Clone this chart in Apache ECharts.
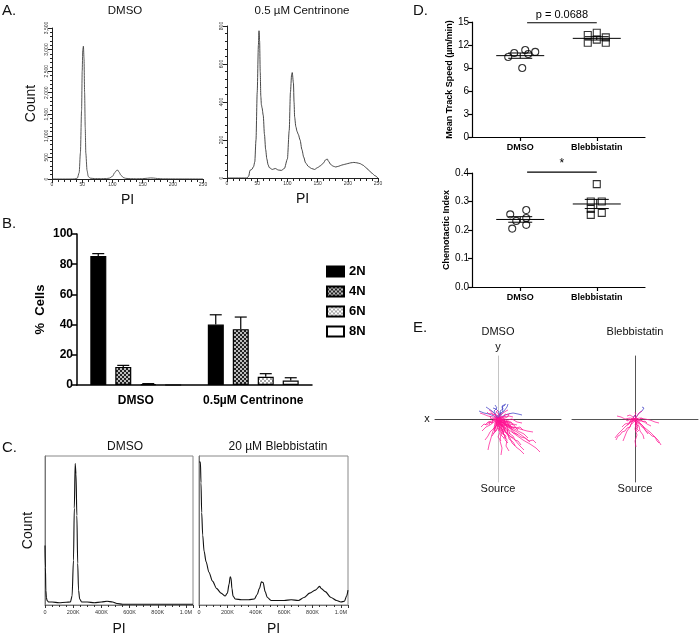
<!DOCTYPE html>
<html><head><meta charset="utf-8">
<script src="https://cdn.jsdelivr.net/npm/echarts@6/dist/echarts.min.js"></script>
<style>html,body{margin:0;padding:0;background:#fff}#c{width:700px;height:637px}</style>
</head><body><div id="c"></div>
<script>
// ---------- Panel A: cell-cycle histograms (PI vs Count) ----------
const histA_DMSO = [[0,0],[30,0],[38,2],[42,20],[45,150],[47,600],[49,1600],[50,2500],[51,3000],[52,3080],[53,2800],[54,2000],[55,1200],[56,600],[58,200],[60,60],[63,20],[70,10],[80,8],[90,10],[95,20],[100,60],[104,150],[107,200],[109,205],[111,160],[114,90],[118,35],[122,15],[130,8],[140,6],[150,8],[158,18],[163,25],[168,22],[175,10],[185,5],[200,3],[220,2],[250,0]];
const histA_Cent = [[0,0],[33,0],[36,10],[38,40],[41,45],[44,60],[46,85],[48,200],[50,450],[52,700],[53,775],[54,720],[55,560],[56,430],[57,385],[58,370],[60,330],[62,230],[64,150],[66,100],[68,70],[70,55],[75,45],[80,50],[85,42],[90,40],[95,50],[100,100],[103,250],[105,450],[107,545],[108,555],[110,500],[111,400],[112,320],[114,270],[116,245],[118,230],[121,200],[124,150],[127,110],[130,80],[135,60],[140,50],[145,45],[150,55],[155,65],[160,80],[163,95],[166,100],[168,88],[172,70],[176,62],[180,58],[185,62],[190,68],[195,72],[200,76],[205,80],[210,82],[215,80],[220,76],[225,68],[230,55],[235,40],[240,25],[245,12],[250,0]];
const aTitles = ['DMSO','0.5 µM Centrinone'];

// ---------- Panel B: ploidy bar chart ----------
const bCategories = ['DMSO','0.5µM Centrinone'];
const bSeriesNames = ['2N','4N','6N','8N'];
const b2N = [85.5, 40];   const b2N_err = [1.5, 6.5];
const b4N = [12, 37];     const b4N_err = [1, 8];
const b6N = [0.6, 5.5];   const b6N_err = [0.3, 2];
const b8N = [0, 3];       const b8N_err = [0, 1.8];

// ---------- Panel C: PI histograms (PI in K, relative count %) ----------
const histC_DMSO = [[0,40],[3,25],[6,10],[10,5],[15,3],[25,2],[50,2],[100,1.5],[150,1.8],[180,2],[192,6],[202,30],[208,65],[214,95],[220,88],[226,60],[232,28],[238,10],[246,4],[260,2],[300,2],[350,1.5],[400,2],[440,2.5],[480,2],[510,1],[550,0.5],[1050,0.5]];
const histC_Bleb = [[0,96],[10,96],[14,82],[19,62],[26,47],[36,36],[50,29],[70,22],[95,16],[125,11],[155,8],[185,6],[200,8],[212,14],[220,19],[226,18],[232,11],[240,6],[255,4],[300,3.5],[350,3.5],[390,4],[410,7],[425,11],[440,15.5],[452,15],[466,9],[482,5],[510,3],[600,3],[650,3.5],[700,3],[740,5],[780,8],[820,10],[850,12.5],[862,11],[890,9],[930,5],[970,3],[1000,2],[1025,2.5],[1040,6],[1050,10]];
const cTitles = ['DMSO','20 µM Blebbistatin'];

// ---------- Panel D: dot plots ----------
const dGroups = ['DMSO','Blebbistatin'];
const speedDMSO = [11.35, 11.1, 10.96, 10.83, 10.43, 9.0];
const speedBleb = [13.3, 12.3, 13.6, 12.7, 13.0, 12.3];
const ciDMSO = [0.270, 0.255, 0.242, 0.232, 0.218, 0.205];
const ciBleb = [0.361, 0.300, 0.300, 0.274, 0.260, 0.253];
const speedP = 'p = 0.0688';
const ciP = '*';

// ---------- Panel E: migration tracks (relative x, y) ----------
const tracksDMSO_pink = [
 [[0,0],[4,-3],[9,-6],[15,-8],[22,-10],[29,-12],[35,-13]],
 [[0,0],[5,-6],[11,-11],[18,-16],[25,-21],[32,-25],[38,-29],[42,-33]],
 [[0,0],[6,-4],[12,-9],[19,-13],[26,-18],[32,-23]],
 [[0,0],[-2,-6],[-5,-12],[-7,-19],[-9,-26],[-10,-31]],
 [[0,0],[1,-7],[3,-14],[2,-22],[4,-29],[3,-36]],
 [[0,0],[-4,-3],[-8,-6],[-12,-8],[-16,-12]],
 [[0,0],[-5,2],[-10,3],[-15,5],[-18,6]],
 [[0,0],[3,2],[7,1],[11,3],[15,2]],
 [[0,0],[2,-5],[6,-9],[8,-14],[12,-19],[14,-24],[17,-27]],
 [[0,0],[-3,-4],[-4,-9],[-8,-13],[-10,-17],[-13,-21]],
 [[0,0],[5,-2],[8,-7],[13,-9],[17,-14],[20,-16]],
 [[0,0],[1,-4],[-1,-9],[2,-13],[0,-18],[3,-22]],
 [[0,0],[4,1],[9,-1],[14,0],[19,-3],[24,-4]],
 [[0,0],[-2,3],[-5,5],[-7,8],[-9,9]],
 [[0,0],[2,4],[5,6],[8,8],[10,9]],
 [[0,0],[6,-10],[10,-16],[16,-20],[22,-27],[26,-31]],
 [[0,0],[-1,-3],[-3,-7],[-2,-11],[-5,-15]],
 [[0,0],[3,-3],[5,-6],[9,-5],[12,-8]],
 [[0,0],[7,-6],[13,-8],[20,-12],[26,-15],[30,-19]],
 [[0,0],[0,-6],[4,-10],[6,-16],[9,-21],[8,-27],[11,-32]],
 [[0,0],[-3,1],[-6,-2],[-10,-3],[-13,-6]],
 [[0,0],[4,-1],[8,-3],[11,-2],[15,-5],[19,-6]],
 [[0,0],[2,-2],[3,-6],[6,-8],[7,-12]],
 [[0,0],[-1,2],[1,5],[-2,7],[0,9]],
 [[0,0],[3,-1],[5,-4],[9,-3],[11,-7],[14,-9]],
 [[0,0],[-2,-2],[-1,-6],[-4,-9],[-3,-13]],
 [[0,0],[2,-3],[1,-6],[4,-8],[3,-11],[6,-13],[5,-16]],
 [[0,0],[3,1],[5,-2],[8,-1],[10,-4],[13,-3],[15,-6]],
 [[0,0],[-2,-1],[-3,-4],[-1,-7],[-4,-9],[-3,-12]],
 [[0,0],[1,2],[4,1],[6,3],[9,2],[11,4]],
 [[0,0],[4,-4],[6,-2],[9,-6],[11,-5],[14,-9],[17,-8],[20,-11]],
 [[0,0],[-1,-4],[2,-6],[1,-10],[4,-12],[3,-16],[6,-19]],
 [[0,0],[3,-2],[2,-5],[5,-7],[8,-6],[10,-10],[9,-13],[12,-15]],
 [[0,0],[-3,2],[-2,5],[-5,4],[-7,6],[-9,5],[-11,7]],
 [[0,0],[2,-1],[5,-4],[4,-7],[7,-9],[10,-11],[9,-14],[12,-17],[15,-19]],
 [[0,0],[-2,-3],[0,-5],[-3,-8],[-1,-11],[-4,-14],[-6,-17]],
 [[0,0],[5,0],[7,-3],[10,-2],[12,-5],[16,-6],[18,-9],[22,-8],[25,-11]],
 [[0,0],[1,-2],[-2,-4],[0,-7],[2,-9],[1,-12]],
 [[0,0],[3,3],[6,2],[7,5],[10,4],[12,6]],
 [[0,0],[2,-6],[5,-8],[7,-13],[10,-15],[11,-20],[15,-23],[18,-28],[22,-31],[26,-35]],
 [[0,0],[-4,-1],[-6,-4],[-9,-3],[-11,-6],[-14,-5],[-17,-8]],
 [[0,0],[4,-3],[7,-4],[9,-8],[13,-10],[15,-14],[19,-15],[23,-18],[27,-19],[31,-22],[35,-21],[38,-24]],
 [[0,0],[0,-3],[3,-5],[2,-9],[5,-10],[4,-14],[7,-16],[6,-20]],
 [[0,0],[-1,1],[-3,-1],[-5,1],[-7,0],[-8,3]],
 [[0,0],[2,1],[3,-1],[6,0],[7,-3],[9,-2]],
 [[0,0],[1,-5],[4,-6],[3,-10],[6,-11],[5,-15],[8,-17],[7,-21],[10,-24]],
 [[0,0],[2,-1],[1,-3],[3,-4],[5,-3],[6,-6],[8,-5],[9,-8]],
 [[0,0],[-1,-1],[0,-3],[-2,-5],[0,-6],[-1,-9],[1,-10]],
 [[0,0],[1,1],[3,0],[4,-2],[6,-1],[7,-4],[10,-4],[11,-7],[13,-6]],
 [[0,0],[-2,1],[-3,-2],[-5,-1],[-6,-4],[-8,-3],[-9,-6]],
 [[0,0],[3,-4],[4,-7],[7,-8],[8,-11],[11,-12],[12,-15],[15,-17],[17,-21],[20,-22],[23,-26]]
];
const tracksDMSO_blue = [
 [[0,0],[-4,3],[-9,5],[-14,6],[-19,8]],
 [[0,0],[3,4],[6,8],[9,12],[10,15]],
 [[0,0],[-2,4],[-4,8],[-1,11],[-3,14]],
 [[0,0],[5,3],[10,5],[15,6],[20,5],[24,4]],
 [[0,0],[2,5],[5,8],[4,12],[7,14]],
 [[0,0],[-3,5],[-6,8],[-9,10],[-12,12]],
 [[0,0],[1,3],[3,5],[2,8],[5,10],[4,13],[8,15]],
 [[0,0],[-1,3],[2,5],[0,8],[-2,10],[-5,11]]
];
const tracksBleb_pink = [
 [[0,0],[-4,-3],[-9,-7],[-13,-11],[-17,-15],[-20,-19]],
 [[0,0],[5,-4],[10,-9],[15,-13],[19,-17],[23,-21],[26,-26]],
 [[0,0],[1,-5],[0,-10],[2,-16],[0,-22],[1,-28]],
 [[0,0],[-5,1],[-10,0],[-14,2],[-18,3]],
 [[0,0],[5,1],[10,0],[15,-1],[20,-3],[24,-4]],
 [[0,0],[3,-3],[7,-6],[10,-11],[13,-15]],
 [[0,0],[-3,-3],[-5,-8],[-8,-12],[-10,-17],[-12,-22]],
 [[0,0],[2,3],[4,6],[7,8]],
 [[0,0],[-2,2],[-5,4],[-8,3]],
 [[0,0],[4,-2],[8,-2],[12,-5],[16,-7]],
 [[0,0],[-3,-1],[-6,-4],[-10,-5],[-13,-8]],
 [[0,0],[1,-3],[4,-7],[5,-12],[8,-16],[9,-20]],
 [[0,0],[2,-2],[1,-5],[3,-7],[2,-10],[4,-12]],
 [[0,0],[-2,-1],[-3,-3],[-5,-2],[-6,-5],[-8,-6]],
 [[0,0],[3,0],[4,-2],[6,-1],[8,-3],[10,-2],[12,-4]],
 [[0,0],[1,2],[-1,3],[1,5],[0,7]],
 [[0,0],[-1,-2],[1,-4],[0,-6],[2,-8],[1,-11],[3,-13]],
 [[0,0],[2,1],[4,-1],[6,1],[8,0]],
 [[0,0],[-3,1],[-4,-1],[-6,0],[-7,-2],[-9,-1]],
 [[0,0],[3,-4],[5,-5],[7,-8],[9,-9],[11,-12],[14,-14],[17,-17],[20,-18],[22,-22],[24,-24]],
 [[0,0],[-2,-4],[-4,-5],[-5,-8],[-8,-9],[-10,-12],[-13,-13],[-15,-16],[-17,-17],[-19,-21]],
 [[0,0],[1,-1],[0,-3],[2,-4],[1,-6],[3,-7]],
 [[0,0],[-1,1],[-2,-1],[-4,0],[-5,-2]]
];
const tracksBleb_blue = [
 [[0,0],[2,3],[4,6],[7,8],[9,11],[7,12]],
 [[0,0],[-2,2],[1,4]]
];
const eTitles = ['DMSO','Blebbistatin'];

// ---------- helpers / styling ----------
const FONT = 'Liberation Sans, Arial, sans-serif';
function checker(a, b, cell) {
  const c = document.createElement('canvas');
  c.width = c.height = cell * 2;
  const g = c.getContext('2d');
  g.fillStyle = a; g.fillRect(0, 0, cell * 2, cell * 2);
  g.fillStyle = b; g.fillRect(0, 0, cell, cell); g.fillRect(cell, cell, cell, cell);
  return c;
}
const pat4N = {image: checker('#222', '#bdbdbd', 2), repeat: 'repeat'};
const pat6N = {image: checker('#ffffff', '#a8a8a8', 2), repeat: 'repeat'};
const barFills = ['#000', pat4N, pat6N, '#fff'];
const bVals = [b2N, b4N, b6N, b8N];
const bErrs = [b2N_err, b4N_err, b6N_err, b8N_err];
const BAR_W = 16, BAR_STEP = 25;

const mean = a => a.reduce((s, v) => s + v, 0) / a.length;
const sem = a => { const m = mean(a); return Math.sqrt(a.reduce((s, v) => s + (v - m) * (v - m), 0) / (a.length - 1)) / Math.sqrt(a.length); };
// horizontal scatter spread of dots (pixels, style only)
const PX_PER_UNIT = 76.5;
const spreadSpeedDMSO = [5, 15, -6, 8, -12, 2];
const spreadSpeedBleb = [-9, -9, 0, 0, 9, 9];
const spreadCiDMSO = [6, -10, 6, -4, 6, -8];
const spreadCiBleb = [0, -6, 5, -6, 5, -6];

function histAxisX(gi, min, max) {
  return {gridIndex: gi, type: 'value', min, max, interval: 50,
    axisLine: {onZero: false, lineStyle: {color: '#222', width: 1}},
    axisTick: {length: 4, lineStyle: {color: '#222'}},
    minorTick: {show: true, splitNumber: 5, length: 3, lineStyle: {color: '#222'}},
    axisLabel: {fontSize: 5, color: '#333', margin: 3},
    splitLine: {show: false}, minorSplitLine: {show: false},
    name: 'PI', nameLocation: 'middle', nameGap: 14, nameTextStyle: {fontSize: 14, color: '#111'}};
}
function histAxisY(gi, max, interval, name) {
  return {gridIndex: gi, type: 'value', min: 0, max, interval,
    axisLine: {show: true, onZero: false, lineStyle: {color: '#222', width: 1}},
    axisTick: {show: true, length: 4, lineStyle: {color: '#222'}},
    minorTick: {show: true, splitNumber: 5, length: 2, lineStyle: {color: '#222'}},
    axisLabel: {fontSize: 5, color: '#333', rotate: 90, margin: 3},
    splitLine: {show: false},
    name: name || '', nameLocation: 'middle', nameGap: 14, nameTextStyle: {fontSize: 14, color: '#111'}};
}
function cAxisX(gi) {
  return {gridIndex: gi, type: 'value', min: 0, max: 1050, interval: 200,
    axisLine: {onZero: false, lineStyle: {color: '#777', width: 1}},
    axisTick: {length: 3, lineStyle: {color: '#333'}},
    minorTick: {show: true, splitNumber: 4, length: 2, lineStyle: {color: '#333'}},
    axisLabel: {fontSize: 5.5, color: '#333', margin: 4, formatter: v => v === 0 ? '0' : (v >= 1000 ? (v / 1000).toFixed(1) + 'M' : v + 'K')},
    splitLine: {show: false},
    name: 'PI', nameLocation: 'middle', nameGap: 17, nameTextStyle: {fontSize: 14, color: '#111'}};
}
function cAxisY(gi, name) {
  return {gridIndex: gi, type: 'value', min: 0, max: 100,
    axisLine: {show: true, onZero: false, lineStyle: {color: '#777'}},
    axisTick: {show: false}, axisLabel: {show: false}, splitLine: {show: false},
    name: name || '', nameLocation: 'middle', nameGap: 10, nameTextStyle: {fontSize: 14, color: '#111'}};
}
function dAxisX(gi) {
  return {gridIndex: gi, type: 'value', min: 0.37, max: 2.63,
    axisLine: {onZero: false, lineStyle: {color: '#000', width: 1.2}},
    axisTick: {show: true, customValues: [1, 2], length: 4, lineStyle: {color: '#000', width: 1.2}},
    axisLabel: {customValues: [1, 2], formatter: v => dGroups[Math.round(v) - 1], fontSize: 9, fontWeight: 'bold', color: '#000', margin: 6},
    splitLine: {show: false}};
}
function dAxisY(gi, max, interval, name, fmt) {
  return {gridIndex: gi, type: 'value', min: 0, max, interval,
    axisLine: {show: true, onZero: false, lineStyle: {color: '#000', width: 1.2}},
    axisTick: {show: true, length: 4, lineStyle: {color: '#000', width: 1.2}},
    axisLabel: {fontSize: 10, color: '#000', margin: 3, formatter: fmt},
    splitLine: {show: false},
    name, nameLocation: 'middle', nameGap: 17, nameTextStyle: {fontSize: 9, fontWeight: 'bold', color: '#000'}};
}
function eAxisX(gi, lineColor) {
  return {gridIndex: gi, type: 'value', min: -63, max: 63, axisLine: {onZero: true, lineStyle: {color: lineColor, width: 1}},
    axisTick: {show: false}, axisLabel: {show: false}, splitLine: {show: false}};
}
function eAxisY(gi, lineColor) {
  return {gridIndex: gi, type: 'value', min: -63, max: 63, axisLine: {show: true, onZero: true, lineStyle: {color: lineColor, width: 1}},
    axisTick: {show: false}, axisLabel: {show: false}, splitLine: {show: false}};
}

// ---------- series ----------
const series = [];
series.push({type: 'line', xAxisIndex: 0, yAxisIndex: 0, data: histA_DMSO, showSymbol: false, smooth: 0.25, smoothMonotone: 'x', lineStyle: {color: '#444', width: 0.9}, silent: true});
series.push({type: 'line', xAxisIndex: 1, yAxisIndex: 1, data: histA_Cent, showSymbol: false, smooth: 0.25, smoothMonotone: 'x', lineStyle: {color: '#333', width: 0.9}, silent: true});

bSeriesNames.forEach((n, i) => {
  series.push({type: 'bar', name: n, xAxisIndex: 2, yAxisIndex: 2, data: bVals[i], barWidth: BAR_W, barGap: '56%',
    itemStyle: {color: barFills[i], borderColor: '#000', borderWidth: 1.2}, silent: true});
});
const errData = [];
bVals.forEach((vals, si) => vals.forEach((v, ci) => { if (bErrs[si][ci] > 0) errData.push([ci, v, bErrs[si][ci], si]); }));
series.push({type: 'custom', xAxisIndex: 2, yAxisIndex: 2, data: errData, silent: true, z: 3,
  renderItem(params, api) {
    const ci = api.value(0), v = api.value(1), e = api.value(2), si = api.value(3);
    const base = api.coord([ci, v]), top = api.coord([ci, v + e]);
    const x = base[0] + (si - 1.5) * BAR_STEP;
    const st = {stroke: '#000', lineWidth: 1.2};
    return {type: 'group', children: [
      {type: 'line', shape: {x1: x, y1: base[1], x2: x, y2: top[1]}, style: st},
      {type: 'line', shape: {x1: x - 6, y1: top[1], x2: x + 6, y2: top[1]}, style: st}
    ]};
  }});

series.push({type: 'line', xAxisIndex: 3, yAxisIndex: 3, data: histC_DMSO, showSymbol: false, smooth: 0.3, smoothMonotone: 'x', lineStyle: {color: '#111', width: 1.1}, silent: true});
series.push({type: 'line', xAxisIndex: 4, yAxisIndex: 4, data: histC_Bleb, showSymbol: false, smooth: 0.3, smoothMonotone: 'x', lineStyle: {color: '#111', width: 1.1}, silent: true});

function dotSeries(ax, vals, g, symbol, spread) {
  return {type: 'scatter', xAxisIndex: ax, yAxisIndex: ax, symbol, symbolSize: 7, silent: true, z: 4,
    data: vals.map((v, i) => [g + spread[i] / PX_PER_UNIT, v]),
    itemStyle: {color: 'rgba(255,255,255,0)', borderColor: '#000', borderWidth: 1.1}};
}
function meanSemSeries(ax, groups) {
  return {type: 'custom', xAxisIndex: ax, yAxisIndex: ax, silent: true, z: 5,
    data: groups.map((a, i) => [i + 1, mean(a), sem(a)]),
    renderItem(params, api) {
      const g = api.value(0), m = api.value(1), s = api.value(2);
      const c = api.coord([g, m]), hi = api.coord([g, m + s]), lo = api.coord([g, m - s]);
      const st = {stroke: '#000', lineWidth: 1};
      return {type: 'group', children: [
        {type: 'line', shape: {x1: c[0] - 24, y1: c[1], x2: c[0] + 24, y2: c[1]}, style: st},
        {type: 'line', shape: {x1: c[0], y1: hi[1], x2: c[0], y2: lo[1]}, style: st},
        {type: 'line', shape: {x1: c[0] - 12, y1: hi[1], x2: c[0] + 12, y2: hi[1]}, style: st},
        {type: 'line', shape: {x1: c[0] - 12, y1: lo[1], x2: c[0] + 12, y2: lo[1]}, style: st}
      ]};
    }};
}
function sigSeries(ax, y, label, fs) {
  return {type: 'custom', xAxisIndex: ax, yAxisIndex: ax, silent: true, clip: false,
    data: [[1.09, 2, y]],
    renderItem(params, api) {
      const a = api.coord([api.value(0), api.value(2)]), b = api.coord([api.value(1), api.value(2)]);
      return {type: 'group', children: [
        {type: 'line', shape: {x1: a[0], y1: a[1], x2: b[0], y2: b[1]}, style: {stroke: '#000', lineWidth: 1.2}},
        {type: 'text', style: {text: label, x: (a[0] + b[0]) / 2, y: a[1] - 2, align: 'center', textAlign: 'center', verticalAlign: 'bottom', textVerticalAlign: 'bottom', font: fs + 'px ' + FONT, fill: '#000'}}
      ]};
    }};
}
series.push(dotSeries(5, speedDMSO, 1, 'circle', spreadSpeedDMSO), dotSeries(5, speedBleb, 2, 'rect', spreadSpeedBleb),
  meanSemSeries(5, [speedDMSO, speedBleb]), sigSeries(5, 14.9, speedP, 11));
series.push(dotSeries(6, ciDMSO, 1, 'circle', spreadCiDMSO), dotSeries(6, ciBleb, 2, 'rect', spreadCiBleb),
  meanSemSeries(6, [ciDMSO, ciBleb]), sigSeries(6, 0.403, ciP, 12));

function trackSeries(ax, tracks, color, z) {
  return {type: 'lines', coordinateSystem: 'cartesian2d', xAxisIndex: ax, yAxisIndex: ax, polyline: true, silent: true, z,
    data: tracks.map(t => ({coords: t})), lineStyle: {color, width: 0.8, opacity: 0.9}};
}
series.push(trackSeries(7, tracksDMSO_blue, '#3b3bc4', 2), trackSeries(7, tracksDMSO_pink, '#ff1493', 3));
series.push(trackSeries(8, tracksBleb_blue, '#3b3bc4', 2), trackSeries(8, tracksBleb_pink, '#ff1493', 3));

// ---------- text labels ----------
function txt(text, x, y, size, opts) {
  opts = opts || {};
  return {type: 'text', x, y, silent: true, style: {text, font: (opts.weight || 'normal') + ' ' + size + 'px ' + FONT, fill: opts.color || '#111',
    align: opts.align || 'center', textAlign: opts.align || 'center', verticalAlign: 'middle', textVerticalAlign: 'middle'}};
}
const graphic = [
  txt('A.', 2, 11, 15, {align: 'left'}),
  txt(aTitles[0], 125, 11, 11.5), txt(aTitles[1], 302, 11, 11.5),
  txt('B.', 2, 224, 15, {align: 'left'}),
  txt('C.', 2, 448, 15, {align: 'left'}),
  txt(cTitles[0], 125, 447, 12), txt(cTitles[1], 278, 447, 12),
  txt('D.', 413, 11, 15, {align: 'left'}),
  txt('E.', 413, 328, 15, {align: 'left'}),
  txt(eTitles[0], 498, 332, 11), txt(eTitles[1], 635, 332, 11),
  txt('y', 498, 347, 11), txt('x', 427, 419, 11),
  txt('Source', 498, 489, 11), txt('Source', 635, 489, 11)
];

const option = {
  animation: false,
  textStyle: {fontFamily: FONT},
  grid: [
    {left: 52, top: 28, width: 151, height: 151},
    {left: 227, top: 26, width: 151, height: 152},
    {left: 77, top: 234, width: 235, height: 151},
    {left: 45, top: 456, width: 148, height: 149, show: true, borderColor: '#888', borderWidth: 1},
    {left: 199, top: 456, width: 149, height: 149, show: true, borderColor: '#888', borderWidth: 1},
    {left: 472, top: 22, width: 173, height: 115},
    {left: 472, top: 173, width: 173, height: 114},
    {left: 435, top: 356, width: 126, height: 126},
    {left: 572, top: 356, width: 126, height: 126}
  ].map(g => Object.assign({outerBoundsMode: 'none', containLabel: false}, g)),
  xAxis: [
    histAxisX(0, 0, 250), histAxisX(1, 0, 250),
    {gridIndex: 2, type: 'category', data: bCategories,
      axisLine: {onZero: false, lineStyle: {color: '#000', width: 1.5}},
      axisTick: {alignWithLabel: true, length: 5, lineStyle: {color: '#000', width: 1.5}},
      axisLabel: {interval: 0, hideOverlap: false, fontSize: 12, fontWeight: 'bold', color: '#000', margin: 10}},
    cAxisX(3), cAxisX(4), dAxisX(5), dAxisX(6),
    eAxisX(7, '#444'), eAxisX(8, '#555')
  ],
  yAxis: [
    histAxisY(0, 3500, 500, 'Count'), histAxisY(1, 800, 200),
    {gridIndex: 2, type: 'value', min: 0, max: 100, interval: 20,
      axisLine: {show: true, onZero: false, lineStyle: {color: '#000', width: 1.5}},
      axisTick: {show: true, length: 5, lineStyle: {color: '#000', width: 1.5}},
      axisLabel: {fontSize: 12, fontWeight: 'bold', color: '#000', margin: 4},
      splitLine: {show: false},
      name: '%  Cells', nameLocation: 'middle', nameGap: 30, nameTextStyle: {fontSize: 13, fontWeight: 'bold', color: '#000'}},
    cAxisY(3, 'Count'), cAxisY(4),
    dAxisY(5, 15, 3, 'Mean Track Speed (µm/min)'),
    dAxisY(6, 0.4, 0.1, 'Chemotactic Index', v => v.toFixed(1)),
    eAxisY(7, '#c4c4c4'), eAxisY(8, '#555')
  ],
  legend: {data: bSeriesNames, orient: 'vertical', left: 321, top: 260, itemWidth: 17, itemHeight: 10, itemGap: 7, icon: 'rect',
    textStyle: {fontSize: 13, fontWeight: 'bold', color: '#000'}, selectedMode: false},
  series,
  graphic
};
const chart = echarts.init(document.getElementById('c'), null, {renderer: 'canvas'});
chart.setOption(option);
</script></body></html>
